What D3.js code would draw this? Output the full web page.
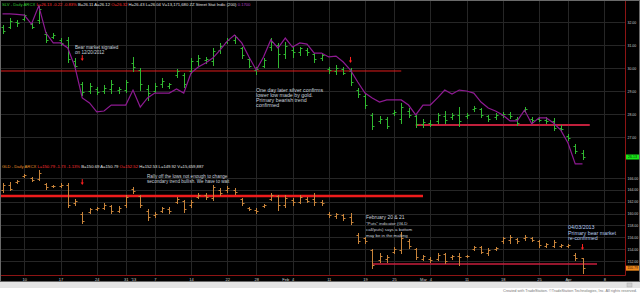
<!DOCTYPE html>
<html>
<head>
<meta charset="utf-8">
<script src="https://cdn.jsdelivr.net/npm/d3@7"></script>
<style>
  body { margin: 0; background: #fff; }
  svg { display: block; }
  text { font-family: "Liberation Sans", Arial, sans-serif; }
</style>
</head>
<body>
<div id="chart"></div>
<script>
// trading days shown (Dec 5 2012 .. Apr 3 2013)
const dates = [
  "2012-12-05","2012-12-06","2012-12-07","2012-12-10","2012-12-11","2012-12-12","2012-12-13","2012-12-14",
  "2012-12-17","2012-12-18","2012-12-19","2012-12-20","2012-12-21","2012-12-24","2012-12-26","2012-12-27",
  "2012-12-28","2012-12-31","2013-01-02","2013-01-03","2013-01-04","2013-01-07","2013-01-08","2013-01-09",
  "2013-01-10","2013-01-11","2013-01-14","2013-01-15","2013-01-16","2013-01-17","2013-01-18","2013-01-22",
  "2013-01-23","2013-01-24","2013-01-25","2013-01-28","2013-01-29","2013-01-30","2013-01-31","2013-02-01",
  "2013-02-04","2013-02-05","2013-02-06","2013-02-07","2013-02-08","2013-02-11","2013-02-12","2013-02-13",
  "2013-02-14","2013-02-15","2013-02-19","2013-02-20","2013-02-21","2013-02-22","2013-02-25","2013-02-26",
  "2013-02-27","2013-02-28","2013-03-01","2013-03-04","2013-03-05","2013-03-06","2013-03-07","2013-03-08",
  "2013-03-11","2013-03-12","2013-03-13","2013-03-14","2013-03-15","2013-03-18","2013-03-19","2013-03-20",
  "2013-03-21","2013-03-22","2013-03-25","2013-03-26","2013-03-27","2013-03-28","2013-04-01","2013-04-02",
  "2013-04-03"
];
// empty slots to the right of the last bar
const futureDates = ["2013-04-04","2013-04-05","2013-04-08"];

// SLV daily bars
const slvOpen = [31.80,31.80,32.00,32.15,31.90,32.10,31.50,31.35,31.20,31.20,30.30,29.30,29.00,29.10,29.00,29.10,
  29.05,29.05,30.20,29.90,29.10,29.00,29.30,29.20,29.70,29.70,29.85,30.30,30.35,30.30,30.80,31.15,
  31.20,30.85,30.40,29.90,30.10,30.90,31.00,30.60,30.80,30.70,30.80,30.60,30.45,29.95,29.85,29.95,
  29.85,29.05,28.80,27.95,27.70,27.80,28.05,27.80,28.15,27.90,27.55,27.60,27.70,27.90,27.85,27.95,
  27.90,28.20,28.20,27.90,27.85,27.95,28.00,27.80,28.15,27.80,27.80,27.75,27.70,27.40,27.05,26.60,26.32];
const slvHigh = [31.87,32.17,32.09,32.35,31.96,32.70,31.57,31.52,31.30,31.35,30.43,29.39,29.35,29.17,29.26,29.48,
  29.17,29.48,30.48,30.00,29.26,29.35,29.57,29.35,29.96,29.78,30.43,30.57,30.48,30.87,31.09,31.30,
  31.43,30.91,30.48,30.04,30.43,31.30,31.09,31.13,30.91,30.91,30.87,30.65,30.65,30.04,30.13,30.04,
  30.00,29.13,28.91,28.04,27.91,27.87,28.17,28.48,28.26,27.96,27.78,27.74,28.04,28.13,28.04,28.30,
  28.04,28.35,28.26,27.96,28.04,28.09,28.09,27.87,28.30,27.87,27.87,27.87,27.83,27.52,27.13,26.70,26.43];
const slvLow = [31.52,31.74,31.83,32.09,31.74,31.96,31.13,31.30,31.00,30.26,30.04,28.83,28.91,28.87,28.91,28.91,
  28.91,28.96,29.87,29.04,28.61,28.96,29.17,29.13,29.61,29.17,29.78,30.13,30.22,30.13,30.65,31.09,
  31.09,30.43,30.04,29.74,30.04,30.78,30.04,30.43,30.48,30.57,30.57,30.26,30.35,29.78,29.74,29.74,
  29.26,28.74,28.26,27.35,27.61,27.39,27.96,27.61,27.87,27.43,27.43,27.48,27.61,27.61,27.78,27.48,
  27.83,28.13,27.87,27.70,27.78,27.87,27.83,27.52,28.09,27.65,27.70,27.61,27.30,27.30,26.87,26.30,26.04];
const slvClose = [31.60,32.05,31.95,32.30,31.80,32.55,31.20,31.45,31.10,30.40,30.10,28.95,29.20,28.95,29.15,29.30,
  29.10,29.40,30.05,29.30,28.90,29.20,29.45,29.30,29.85,29.30,30.30,30.45,30.40,30.75,30.95,31.20,
  31.35,30.55,30.10,29.95,30.35,31.15,30.60,30.95,30.70,30.85,30.70,30.40,30.55,29.90,30.00,29.80,
  29.40,28.85,28.40,27.50,27.80,27.50,28.10,28.30,27.95,27.55,27.65,27.55,27.95,27.75,27.95,27.70,
  27.95,28.25,27.95,27.80,27.95,28.00,27.90,27.60,28.20,27.75,27.75,27.70,27.40,27.35,26.95,26.40,26.13];
// purple study line drawn on the SLV pane
const slvStudy = [32.35,32.35,32.33,32.30,31.91,32.70,31.52,31.09,31.09,30.87,30.04,28.70,28.48,28.09,28.13,28.39,
  28.39,28.39,29.04,28.30,28.70,28.91,28.91,28.91,29.09,28.91,29.78,30.04,30.22,30.43,30.78,31.17,
  31.43,31.09,30.48,29.91,30.48,31.22,30.87,31.30,30.91,31.09,31.04,30.65,30.65,30.48,30.52,30.26,
  29.91,29.39,28.91,28.70,28.52,28.61,28.61,28.61,28.39,27.96,28.39,28.39,28.70,29.04,28.87,29.04,
  29.00,28.91,28.52,28.26,28.13,27.96,27.70,27.70,28.17,27.57,27.83,27.83,27.61,27.30,26.74,25.83,25.83];

// GLD daily bars
const gldOpen = [164.00,164.80,165.30,166.30,166.00,165.90,165.00,164.60,164.70,164.90,161.80,160.00,160.30,160.80,161.00,161.20,
  160.50,161.40,164.20,162.90,160.40,159.70,160.40,160.80,162.00,162.10,161.40,162.80,163.20,162.60,164.00,163.90,
  164.00,162.40,160.90,160.60,161.30,162.50,163.00,161.50,162.30,162.00,162.50,162.40,162.00,160.00,159.60,159.70,
  159.50,156.40,155.80,153.80,152.10,152.30,153.60,153.80,155.40,154.00,152.40,152.40,152.40,153.10,152.60,152.90,
  152.80,154.00,154.30,153.40,154.10,155.30,155.60,155.70,155.80,155.80,155.30,154.60,154.60,154.60,154.50,153.00,152.52];
const gldHigh = [165.15,165.32,165.66,166.67,166.17,167.35,165.15,164.82,165.15,165.15,162.46,160.26,160.94,161.11,161.78,161.44,
  161.27,163.13,164.48,163.13,160.77,160.26,161.11,161.11,162.79,162.29,162.29,163.47,163.47,164.82,164.31,164.65,
  164.31,162.62,161.11,160.94,161.61,163.47,163.13,163.13,162.62,163.13,162.79,163.47,162.29,160.26,160.09,159.93,
  160.09,156.72,156.05,154.02,153.35,153.01,154.36,156.89,155.71,154.19,153.01,152.67,153.35,153.35,153.01,153.35,
  153.01,154.53,154.53,154.19,154.36,156.05,156.38,155.88,156.38,156.05,155.54,155.04,155.54,154.87,154.87,153.35,152.53];
const gldLow = [163.64,163.97,165.15,166.17,165.49,165.66,164.14,164.48,164.48,161.11,161.44,158.41,160.09,160.60,160.77,160.09,
  160.26,161.11,163.47,161.11,158.91,159.42,160.26,160.09,161.78,160.26,161.11,162.62,162.46,162.29,163.13,163.64,
  163.30,161.44,160.60,160.09,161.11,162.29,160.60,161.11,161.44,161.78,161.95,161.44,161.44,159.42,159.25,158.91,
  158.24,155.04,155.04,150.82,151.83,151.83,153.35,153.35,154.19,152.34,152.17,151.83,152.17,151.66,152.34,151.33,
  152.67,153.85,153.35,153.01,153.85,155.04,155.04,155.04,155.54,155.37,154.36,154.36,154.36,154.36,154.36,152.17,149.92];
const gldClose = [164.90,164.20,165.50,166.50,165.70,166.80,164.40,164.70,164.90,161.50,162.10,158.80,160.70,160.90,161.40,160.40,
  160.90,162.80,163.80,161.50,159.50,160.00,160.90,160.40,162.50,160.80,162.00,163.20,162.80,164.40,163.50,164.30,
  163.60,161.70,160.80,160.50,161.40,163.20,161.40,162.70,161.90,162.80,162.20,162.00,161.70,159.70,159.90,159.20,
  158.50,155.40,155.30,151.30,152.90,152.60,154.10,155.90,154.50,152.70,152.80,152.10,153.00,152.00,152.80,152.60,
  152.90,154.30,153.60,153.90,154.20,155.80,156.10,155.30,156.10,155.60,154.70,154.80,155.20,154.70,154.70,152.50,150.79];

// axis labels
const slvTicks = [27, 28, 29, 30, 31, 32];
const gldTicks = [152, 154, 156, 158, 160, 162, 164, 166];
const dateTickDays = ["2012-12-10","2012-12-17","2012-12-24","2012-12-31","2013-01-02","2013-01-07","2013-01-14",
  "2013-01-22","2013-01-28","2013-02-01","2013-02-04","2013-02-11","2013-02-19","2013-02-25","2013-03-01",
  "2013-03-04","2013-03-11","2013-03-18","2013-03-25","2013-04-01","2013-04-08"];
const dateTickLabels = ["10","17","24","31","'13","7","14","22","28","Feb","4","11","19","25","Mar","4","11","18","25","Apr","8"];
const gridDays = ["2012-12-10","2012-12-17","2012-12-24","2012-12-31","2013-01-07","2013-01-14","2013-01-22",
  "2013-01-28","2013-02-04","2013-02-11","2013-02-19","2013-02-25","2013-03-04","2013-03-11","2013-03-18",
  "2013-03-25","2013-04-01","2013-04-08"];

// support lines drawn by hand on the chart: [from day, to day, price]
const slvLines = [[null, "2013-02-26", 29.87], ["2013-02-28", "2013-04-04", 27.52]];
const gldLines = [[null, "2013-03-01", 162.96], ["2013-02-20", "2013-04-05", 151.50]];
// red arrows: [day, price at the tip]
const slvArrows = [["2012-12-20", 30.30], ["2013-02-14", 30.22]];
const gldArrows = [["2012-12-20", 164.80], ["2013-04-03", 153.85]];

const W = 640, H = 293;
const plotRight = 625, axisBottom = 275;

const allDays = dates.concat(futureDates);
const x = d3.scaleLinear().domain([0, dates.length - 1]).range([2.5, 582.5]);
const xd = day => x(allDays.indexOf(day));
const px = v => Math.round(v) + 0.5;

const ySlv = d3.scaleLinear().domain([27, 32]).range([137, 22]);
const yGld = d3.scaleLinear().domain([152, 166]).range([261, 178]);

const svg = d3.select("#chart").append("svg")
  .attr("width", W).attr("height", H);

// frame and footer
svg.append("rect").attr("width", W).attr("height", 282).attr("fill", "#000");
svg.append("rect").attr("y", 282).attr("width", W).attr("height", 6).attr("fill", "#e4e4e4");
svg.append("rect").attr("y", 288).attr("width", W).attr("height", 5).attr("fill", "#fff");
svg.append("rect").attr("x", 0.5).attr("y", 0.5).attr("width", W - 1).attr("height", 281)
  .attr("fill", "none").attr("stroke", "#6a6a6a");
svg.append("text").attr("x", 637).attr("y", 292.3).attr("text-anchor", "end")
  .attr("font-size", 3.8).attr("fill", "#777")
  .text("Created with TradeStation. \u00a9TradeStation Technologies, Inc. All rights reserved.");
svg.append("rect").attr("x", 627).attr("y", 283).attr("width", 5).attr("height", 4)
  .attr("fill", "#cfcfcf").attr("stroke", "#aaa").attr("stroke-width", 0.5);

// grid
const grid = svg.append("g").attr("stroke", "#262626").attr("stroke-width", 1);
grid.selectAll("line.v").data(gridDays).join("line")
  .attr("x1", d => px(xd(d))).attr("x2", d => px(xd(d)))
  .attr("y1", 1).attr("y2", axisBottom);
grid.selectAll("line.hs").data(slvTicks).join("line")
  .attr("x1", 1).attr("x2", plotRight)
  .attr("y1", d => px(ySlv(d))).attr("y2", d => px(ySlv(d)));
grid.selectAll("line.hg").data(gldTicks).join("line")
  .attr("x1", 1).attr("x2", plotRight)
  .attr("y1", d => px(yGld(d))).attr("y2", d => px(yGld(d)));

// right price axes
const axSlv = svg.append("g").attr("transform", `translate(${plotRight},0)`)
  .call(d3.axisRight(ySlv).tickValues(slvTicks).tickFormat(d3.format(".2f")).tickSize(0).tickPadding(2.5));
const axGld = svg.append("g").attr("transform", `translate(${plotRight},0)`)
  .call(d3.axisRight(yGld).tickValues(gldTicks).tickFormat(d3.format(".2f")).tickSize(0).tickPadding(2.5));
[axSlv, axGld].forEach(a => {
  a.select(".domain").remove();
  a.selectAll("text").attr("font-size", 3.5).attr("fill", "#cfcfcf")
    .attr("font-family", "Liberation Sans, Arial, sans-serif");
});

// date axis
const axX = svg.append("g").attr("transform", `translate(0,${axisBottom})`)
  .call(d3.axisBottom(x).tickValues(dateTickDays.map(d => allDays.indexOf(d)))
    .tickFormat((d, i) => dateTickLabels[i]).tickSize(0).tickPadding(3));
axX.select(".domain").remove();
axX.selectAll("text").attr("font-size", 4).attr("fill", "#cfcfcf")
  .attr("font-family", "Liberation Sans, Arial, sans-serif");

// red pane borders
svg.append("line").attr("x1", plotRight + 0.5).attr("x2", plotRight + 0.5).attr("y1", 1).attr("y2", axisBottom + 0.5)
  .attr("stroke", "#8c1414").attr("stroke-width", 1);
svg.append("line").attr("x1", 1).attr("x2", plotRight + 0.5).attr("y1", axisBottom + 0.5).attr("y2", axisBottom + 0.5)
  .attr("stroke", "#8c1414").attr("stroke-width", 1);

// OHLC bars
function drawBars(o, h, l, c, y, color) {
  const g = svg.append("g").attr("stroke", color).attr("stroke-width", 1);
  const rows = dates.map((d, i) => ({ i, o: o[i], h: h[i], l: l[i], c: c[i] }));
  const bar = g.selectAll("g").data(rows).join("g");
  bar.append("line")
    .attr("x1", d => px(x(d.i))).attr("x2", d => px(x(d.i)))
    .attr("y1", d => Math.round(y(d.h))).attr("y2", d => Math.round(y(d.l)) + 1);
  bar.append("line")
    .attr("x1", d => px(x(d.i)) - 2).attr("x2", d => px(x(d.i)))
    .attr("y1", d => px(y(d.o))).attr("y2", d => px(y(d.o)));
  bar.append("line")
    .attr("x1", d => px(x(d.i))).attr("x2", d => px(x(d.i)) + 2)
    .attr("y1", d => px(y(d.c))).attr("y2", d => px(y(d.c)));
}

// support lines
function drawLevels(lines, y, color, width) {
  svg.append("g").selectAll("line").data(lines).join("line")
    .attr("x1", d => d[0] ? xd(d[0]) : 1)
    .attr("x2", d => xd(d[1]))
    .attr("y1", d => y(d[2])).attr("y2", d => y(d[2]))
    .attr("stroke", color).attr("stroke-width", width);
}

function drawArrows(arrows, y) {
  const g = svg.append("g");
  arrows.forEach(([day, price]) => {
    const ax = xd(day), ay = y(price);
    g.append("line").attr("x1", ax).attr("x2", ax).attr("y1", ay - 6).attr("y2", ay - 2)
      .attr("stroke", "#ff2020").attr("stroke-width", 1);
    g.append("path").attr("d", `M${ax - 1.6},${ay - 2.5}L${ax + 1.6},${ay - 2.5}L${ax},${ay}Z`)
      .attr("fill", "#ff2020");
  });
}

drawLevels(slvLines.slice(0, 1), ySlv, "#e01c1c", 1);
drawLevels(slvLines.slice(1), ySlv, "#c0203c", 2);
drawLevels(gldLines.slice(0, 1), yGld, "#ee1c1c", 2.5);
drawLevels(gldLines.slice(1), yGld, "#c81e3c", 1.5);

drawBars(gldOpen, gldHigh, gldLow, gldClose, yGld, "#c8843a");
drawBars(slvOpen, slvHigh, slvLow, slvClose, ySlv, "#30b830");

// study line
svg.append("path")
  .datum(slvStudy)
  .attr("d", d3.line().x((d, i) => x(i)).y(d => ySlv(d)))
  .attr("fill", "none").attr("stroke", "#8e1a92").attr("stroke-width", 1.2);

drawArrows(slvArrows, ySlv);
drawArrows(gldArrows, yGld);

// last price boxes
function lastBox(price, y, fill, txt) {
  const cy = y(price);
  svg.append("rect").attr("x", plotRight + 1).attr("y", cy - 2.5).attr("width", 13).attr("height", 5).attr("fill", fill);
  svg.append("text").attr("x", plotRight + 7.5).attr("y", cy + 1.3).attr("text-anchor", "middle")
    .attr("font-size", 3.5).attr("fill", txt).text(d3.format(".2f")(price));
}
lastBox(slvClose[slvClose.length - 1], ySlv, "#19e619", "#063306");
lastBox(gldClose[gldClose.length - 1], yGld, "#f08a1c", "#3a1800");

// headers
function header(yPos, parts) {
  const t = svg.append("text").attr("x", 2).attr("y", yPos).attr("font-size", 4.2);
  parts.forEach(([s, col]) => t.append("tspan").attr("fill", col).text(s + "  "));
}
header(5.5, [["SLV - Daily  ARCX", "#33cc33"], ["L=26.13  -0.22  -0.83%", "#ff3030"], ["B=26.11", "#e0e0e0"],
  ["A=26.12", "#e0e0e0"], ["O=26.32", "#ff3030"], ["H=26.43", "#e0e0e0"], ["L=26.04", "#e0e0e0"],
  ["V=13,171,680", "#e0e0e0"], ["ZZ Street Stat Indic (200)", "#e0e0e0"], ["0.1700", "#b040c0"]]);
header(167.5, [["GLD - Daily  ARCX", "#e8962e"], ["L=150.79  -1.73  -1.13%", "#ff3030"], ["B=150.69", "#e0e0e0"],
  ["A=150.79", "#e0e0e0"], ["O=152.52", "#ff3030"], ["H=152.53", "#e0e0e0"], ["L=149.92", "#e0e0e0"],
  ["V=15,659,887", "#e0e0e0"]]);

// annotations
function note(xPos, yPos, lines, size, lh, color) {
  const t = svg.append("text").attr("x", xPos).attr("y", yPos).attr("font-size", size).attr("fill", color);
  lines.forEach((s, i) => t.append("tspan").attr("x", xPos).attr("dy", i ? lh : 0).text(s));
}
note(75, 48.5, ["Bear market signaled", "on 12/20/2012"], 4.6, 5, "#c8d0dc");
note(256, 91.5, ["One day later silver confirms", "lower low made by gold.", "Primary bearish trend", "confirmed"], 5.3, 5.2, "#c8d0dc");
note(147, 177.5, ["Rally off the lows not enough to change", "secondary trend bullish. We have to wait"], 4.6, 5.2, "#c8d0dc");
note(366, 218.5, ["February 20 & 21"], 5, 5, "#c8d0dc");
note(366, 224.5, ["\"Puts\" indicator (GLD", "call/puts) says a bottom", "may be in the making"], 4.4, 6.3, "#c8d0dc");
note(568, 229, ["04/03/2013", "Primary bear market", "re-confirmed"], 5.3, 5.6, "#b4c8ec");
</script>
</body>
</html>
